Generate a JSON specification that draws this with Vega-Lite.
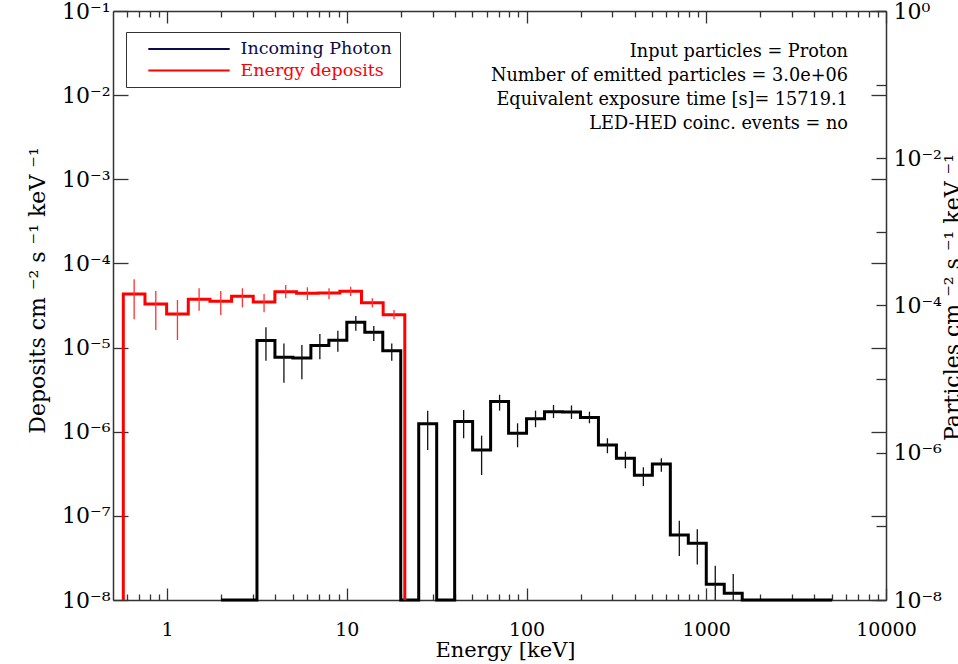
{
  "$schema": "https://vega.github.io/schema/vega-lite/v6.json",
  "width": 773,
  "height": 589,
  "autosize": {"type": "none"},
  "padding": {"left": 113, "top": 11, "right": 72, "bottom": 64},
  "background": "white",
  "config": {
    "view": {"stroke": null},
    "axis": {
      "labelFont": "DejaVu Serif",
      "titleFont": "DejaVu Serif",
      "labelColor": "black",
      "titleColor": "black",
      "titleFontWeight": "normal",
      "grid": false,
      "domainColor": "#333333",
      "domainWidth": 1.5,
      "tickColor": "#333333",
      "tickWidth": 1.3,
      "labelFlush": false,
      "labelOverlap": false,
      "labelBound": false
    }
  },
  "title": {
    "text": ["Input particles = Proton", "Number of emitted particles = 3.0e+06", "Equivalent exposure time [s]= 15719.1", "LED-HED coinc. events = no"],
    "anchor": "end",
    "frame": "group",
    "align": "right",
    "baseline": "top",
    "orient": "top",
    "offset": 0,
    "dx": -38,
    "dy": 133,
    "font": "DejaVu Serif",
    "fontSize": 17.7,
    "fontWeight": "normal",
    "color": "black",
    "lineHeight": 24
  },
  "datasets": {
    "deposits": [
      {"i": 0, "lo": 0.5706, "hi": 0.5706, "y": 1e-8, "series": "Energy deposits"},
      {"i": 1, "lo": 0.5706, "hi": 0.7530, "xc": 0.6556, "y": 4.34e-5, "ylo": 2.17e-5, "yhi": 6.47e-5, "series": "Energy deposits"},
      {"i": 2, "lo": 0.7530, "hi": 0.9940, "xc": 0.8651, "y": 3.30e-5, "ylo": 1.62e-5, "yhi": 4.70e-5, "series": "Energy deposits"},
      {"i": 3, "lo": 0.9940, "hi": 1.3115, "xc": 1.1418, "y": 2.51e-5, "ylo": 1.23e-5, "yhi": 3.67e-5, "series": "Energy deposits"},
      {"i": 4, "lo": 1.3115, "hi": 1.7308, "xc": 1.5068, "y": 3.75e-5, "ylo": 2.74e-5, "yhi": 5.07e-5, "series": "Energy deposits"},
      {"i": 5, "lo": 1.7308, "hi": 2.2844, "xc": 1.9886, "y": 3.55e-5, "ylo": 2.44e-5, "yhi": 4.70e-5, "series": "Energy deposits"},
      {"i": 6, "lo": 2.2844, "hi": 3.0152, "xc": 2.6242, "y": 4.07e-5, "ylo": 3.01e-5, "yhi": 5.07e-5, "series": "Energy deposits"},
      {"i": 7, "lo": 3.0152, "hi": 3.9784, "xc": 3.4634, "y": 3.48e-5, "ylo": 2.62e-5, "yhi": 4.34e-5, "series": "Energy deposits"},
      {"i": 8, "lo": 3.9784, "hi": 5.2512, "xc": 4.5709, "y": 4.61e-5, "ylo": 3.85e-5, "yhi": 5.55e-5, "series": "Energy deposits"},
      {"i": 9, "lo": 5.2512, "hi": 6.9293, "xc": 6.0326, "y": 4.42e-5, "ylo": 3.67e-5, "yhi": 5.20e-5, "series": "Energy deposits"},
      {"i": 10, "lo": 6.9293, "hi": 9.1457, "xc": 7.9598, "y": 4.46e-5, "ylo": 3.78e-5, "yhi": 5.07e-5, "series": "Energy deposits"},
      {"i": 11, "lo": 9.1457, "hi": 12.066, "xc": 10.505, "y": 4.67e-5, "ylo": 4.10e-5, "yhi": 5.30e-5, "series": "Energy deposits"},
      {"i": 12, "lo": 12.066, "hi": 15.925, "xc": 13.867, "y": 3.42e-5, "ylo": 3.01e-5, "yhi": 3.85e-5, "series": "Energy deposits"},
      {"i": 13, "lo": 15.925, "hi": 21.016, "xc": 18.30, "y": 2.45e-5, "ylo": 2.17e-5, "yhi": 2.80e-5, "series": "Energy deposits"},
      {"i": 14, "lo": 21.016, "hi": 21.016, "y": 1e-8, "series": "Energy deposits"}
    ],
    "spectrum": [
      {"i": 3, "lo": 1.9953, "hi": 2.5119, "y": 1e-8},
      {"i": 4, "lo": 2.5119, "hi": 3.1623, "y": 1e-8},
      {"i": 5, "lo": 3.1623, "hi": 3.9811, "xc": 3.548, "y": 1.21e-5, "ylo": 6.98e-6, "yhi": 1.74e-5},
      {"i": 6, "lo": 3.9811, "hi": 5.0119, "xc": 4.467, "y": 7.65e-6, "ylo": 3.83e-6, "yhi": 1.12e-5},
      {"i": 7, "lo": 5.0119, "hi": 6.3096, "xc": 5.623, "y": 7.5e-6, "ylo": 4.2e-6, "yhi": 1.07e-5},
      {"i": 8, "lo": 6.3096, "hi": 7.9433, "xc": 7.079, "y": 1.06e-5, "ylo": 7.26e-6, "yhi": 1.45e-5},
      {"i": 9, "lo": 7.9433, "hi": 10, "xc": 8.913, "y": 1.22e-5, "ylo": 8.93e-6, "yhi": 1.59e-5},
      {"i": 10, "lo": 10, "hi": 12.589, "xc": 11.22, "y": 2.0e-5, "ylo": 1.59e-5, "yhi": 2.37e-5},
      {"i": 11, "lo": 12.589, "hi": 15.849, "xc": 14.125, "y": 1.52e-5, "ylo": 1.2e-5, "yhi": 1.8e-5},
      {"i": 12, "lo": 15.849, "hi": 19.953, "xc": 17.783, "y": 9.18e-6, "ylo": 6.98e-6, "yhi": 1.12e-5},
      {"i": 13, "lo": 19.953, "hi": 25.119, "y": 1e-8},
      {"i": 14, "lo": 25.119, "hi": 31.623, "xc": 28.18, "y": 1.24e-6, "ylo": 6.07e-7, "yhi": 1.78e-6},
      {"i": 15, "lo": 31.623, "hi": 39.811, "y": 1e-8},
      {"i": 16, "lo": 39.811, "hi": 50.119, "xc": 44.67, "y": 1.32e-6, "ylo": 8.36e-7, "yhi": 1.81e-6},
      {"i": 17, "lo": 50.119, "hi": 63.096, "xc": 56.23, "y": 6.07e-7, "ylo": 3.06e-7, "yhi": 8.98e-7},
      {"i": 18, "lo": 63.096, "hi": 79.433, "xc": 70.79, "y": 2.28e-6, "ylo": 1.78e-6, "yhi": 2.75e-6},
      {"i": 19, "lo": 79.433, "hi": 100, "xc": 89.13, "y": 9.57e-7, "ylo": 6.53e-7, "yhi": 1.26e-6},
      {"i": 20, "lo": 100, "hi": 125.89, "xc": 112.2, "y": 1.43e-6, "ylo": 1.13e-6, "yhi": 1.78e-6},
      {"i": 21, "lo": 125.89, "hi": 158.49, "xc": 141.25, "y": 1.73e-6, "ylo": 1.45e-6, "yhi": 2.08e-6},
      {"i": 22, "lo": 158.49, "hi": 199.53, "xc": 177.83, "y": 1.72e-6, "ylo": 1.42e-6, "yhi": 2.05e-6},
      {"i": 23, "lo": 199.53, "hi": 251.19, "xc": 223.87, "y": 1.48e-6, "ylo": 1.26e-6, "yhi": 1.73e-6},
      {"i": 24, "lo": 251.19, "hi": 316.23, "xc": 281.84, "y": 6.95e-7, "ylo": 5.55e-7, "yhi": 8.36e-7},
      {"i": 25, "lo": 316.23, "hi": 398.11, "xc": 354.81, "y": 4.83e-7, "ylo": 3.67e-7, "yhi": 5.8e-7},
      {"i": 26, "lo": 398.11, "hi": 501.19, "xc": 446.68, "y": 3.03e-7, "ylo": 2.26e-7, "yhi": 3.78e-7},
      {"i": 27, "lo": 501.19, "hi": 630.96, "xc": 562.34, "y": 4.13e-7, "ylo": 3.35e-7, "yhi": 4.83e-7},
      {"i": 28, "lo": 630.96, "hi": 794.33, "xc": 707.95, "y": 5.92e-8, "ylo": 3.33e-8, "yhi": 8.75e-8},
      {"i": 29, "lo": 794.33, "hi": 1000, "xc": 891.25, "y": 4.72e-8, "ylo": 2.65e-8, "yhi": 6.92e-8},
      {"i": 30, "lo": 1000, "hi": 1258.9, "xc": 1122, "y": 1.54e-8, "ylo": 1e-8, "yhi": 2.56e-8},
      {"i": 31, "lo": 1258.9, "hi": 1584.9, "xc": 1412.5, "y": 1.2e-8, "ylo": 1e-8, "yhi": 2.04e-8},
      {"i": 32, "lo": 1584.9, "hi": 1995.3, "y": 1e-8},
      {"i": 33, "lo": 1995.3, "hi": 2511.9, "y": 1e-8},
      {"i": 34, "lo": 2511.9, "hi": 3162.3, "y": 1e-8},
      {"i": 35, "lo": 3162.3, "hi": 3981.1, "y": 1e-8},
      {"i": 36, "lo": 3981.1, "hi": 5011.9, "y": 1e-8}
    ]
  },
  "resolve": {"scale": {"x": "independent", "y": "independent", "color": "independent"}},
  "layer": [
    {
      "data": {"name": "spectrum"},
      "transform": [{"fold": ["lo", "hi"], "as": ["key", "x"]}],
      "mark": {"type": "line", "color": "black", "strokeWidth": 3, "strokeJoin": "miter", "strokeCap": "butt"},
      "encoding": {
        "x": {
          "field": "x", "type": "quantitative",
          "scale": {"type": "log", "domain": [0.5, 10000], "nice": false, "zero": false},
          "axis": {
            "orient": "bottom", "values": [1, 10, 100, 1000, 10000], "format": "d",
            "tickSize": -12, "labelPadding": 47, "labelBaseline": "alphabetic", "labelFontSize": 19,
            "title": "Energy [keV]", "titleFontSize": 21, "titleX": 392, "titleY": 56,
            "titleBaseline": "alphabetic", "titleAlign": "center", "titleAnchor": null
          }
        },
        "y": {
          "field": "y", "type": "quantitative",
          "scale": {"type": "log", "domain": [1e-8, 0.1], "nice": false, "zero": false},
          "axis": {
            "orient": "left", "values": [1e-8, 1e-7, 1e-6, 1e-5, 1e-4, 1e-3, 1e-2, 1e-1],
            "labelExpr": "'10' + (datum.value < 1 ? '⁻' : '') + substring('⁰¹²³⁴⁵⁶⁷⁸⁹', abs(round(log(datum.value)/LN10)), abs(round(log(datum.value)/LN10)) + 1)",
            "tickSize": -15, "labelPadding": 18, "labelFontSize": 22, "labelAlign": "right", "labelBaseline": "middle",
            "title": "Deposits cm ⁻² s ⁻¹ keV ⁻¹", "titleFontSize": 22, "titleAngle": 270,
            "titleX": -86, "titleY": 279, "titleBaseline": "top", "titleAlign": "center"
          }
        },
        "order": [{"field": "i", "type": "quantitative"}, {"field": "key", "sort": "descending"}]
      }
    },
    {
      "data": {"name": "spectrum"},
      "transform": [{"filter": "isValid(datum.ylo)"}],
      "mark": {"type": "rule", "color": "#111111", "strokeWidth": 1.3},
      "encoding": {
        "x": {
          "field": "xc", "type": "quantitative",
          "scale": {"type": "log", "domain": [0.5, 10000], "nice": false, "zero": false},
          "axis": {
            "orient": "bottom", "domain": false, "labels": false, "tickSize": -6, "title": null,
            "values": [0.6, 0.7, 0.8, 0.9, 2, 3, 4, 5, 6, 7, 8, 9, 20, 30, 40, 50, 60, 70, 80, 90, 200, 300, 400, 500, 600, 700, 800, 900, 2000, 3000, 4000, 5000, 6000, 7000, 8000, 9000]
          }
        },
        "y": {
          "field": "ylo", "type": "quantitative",
          "scale": {"type": "log", "domain": [1e-8, 0.1], "nice": false, "zero": false},
          "axis": null
        },
        "y2": {"field": "yhi"}
      }
    },
    {
      "data": {"name": "deposits"},
      "transform": [{"fold": ["lo", "hi"], "as": ["key", "x"]}],
      "mark": {"type": "line", "strokeWidth": 3, "strokeJoin": "miter", "strokeCap": "butt"},
      "encoding": {
        "x": {
          "field": "x", "type": "quantitative",
          "scale": {"type": "log", "domain": [0.5, 10000], "nice": false, "zero": false},
          "axis": {
            "orient": "top", "values": [1, 10, 100, 1000, 10000], "labels": false,
            "tickSize": -12, "title": null
          }
        },
        "y": {
          "field": "y", "type": "quantitative",
          "scale": {"type": "log", "domain": [1e-8, 0.1], "nice": false, "zero": false},
          "axis": {
            "orient": "right", "values": [1e-8, 1e-7, 1e-6, 1e-5, 1e-4, 1e-3, 1e-2, 1e-1],
            "labels": false, "tickSize": -15, "title": null
          }
        },
        "color": {
          "field": "series", "type": "nominal",
          "scale": {"domain": ["Incoming Photon", "Energy deposits"], "range": ["#0b0b50", "#ff0000"]},
          "legend": {
            "title": null, "orient": "none", "legendX": 13, "legendY": 21, "direction": "vertical",
            "symbolType": "M-5,0H5", "symbolSize": 265, "symbolStrokeWidth": 2, "symbolOffset": 46,
            "labelOffset": 42, "labelFont": "DejaVu Serif", "labelFontSize": 17.5,
            "strokeColor": "#333333", "padding": 7.5, "rowPadding": 3.5,
            "encode": {"labels": {"update": {"fill": {"signal": "datum.value == 'Energy deposits' ? '#ff0000' : '#0b0b50'"}}}}
          }
        },
        "order": [{"field": "i", "type": "quantitative"}, {"field": "key", "sort": "descending"}]
      }
    },
    {
      "data": {"name": "deposits"},
      "transform": [{"filter": "isValid(datum.ylo)"}],
      "mark": {"type": "rule", "color": "#ff3030", "strokeWidth": 1.3},
      "encoding": {
        "x": {
          "field": "xc", "type": "quantitative",
          "scale": {"type": "log", "domain": [0.5, 10000], "nice": false, "zero": false},
          "axis": {
            "orient": "top", "domain": false, "labels": false, "tickSize": -6, "title": null,
            "values": [0.6, 0.7, 0.8, 0.9, 2, 3, 4, 5, 6, 7, 8, 9, 20, 30, 40, 50, 60, 70, 80, 90, 200, 300, 400, 500, 600, 700, 800, 900, 2000, 3000, 4000, 5000, 6000, 7000, 8000, 9000]
          }
        },
        "y": {
          "field": "ylo", "type": "quantitative",
          "scale": {"type": "log", "domain": [1e-8, 0.1], "nice": false, "zero": false},
          "axis": null
        },
        "y2": {"field": "yhi"}
      }
    },
    {
      "mark": {"type": "rule", "opacity": 0},
      "encoding": {
        "y": {
          "datum": 1, "type": "quantitative",
          "scale": {"type": "log", "domain": [1e-8, 1], "nice": false, "zero": false},
          "axis": {
            "orient": "right", "domain": false, "values": [1, 1e-1, 1e-2, 1e-3, 1e-4, 1e-5, 1e-6, 1e-7, 1e-8],
            "labelExpr": "abs(round(log(datum.value)/LN10)) % 2 == 1 ? '' : '10' + (datum.value < 1 ? '⁻' : '') + substring('⁰¹²³⁴⁵⁶⁷⁸⁹', abs(round(log(datum.value)/LN10)), abs(round(log(datum.value)/LN10)) + 1)",
            "tickSize": -10, "labelPadding": 17, "labelFontSize": 22, "labelAlign": "left", "labelBaseline": "middle",
            "title": "Particles cm ⁻² s ⁻¹ keV ⁻¹", "titleFontSize": 22, "titleAngle": 270,
            "titleX": 56, "titleY": 286, "titleBaseline": "top", "titleAlign": "center"
          }
        }
      }
    }
  ]
}
